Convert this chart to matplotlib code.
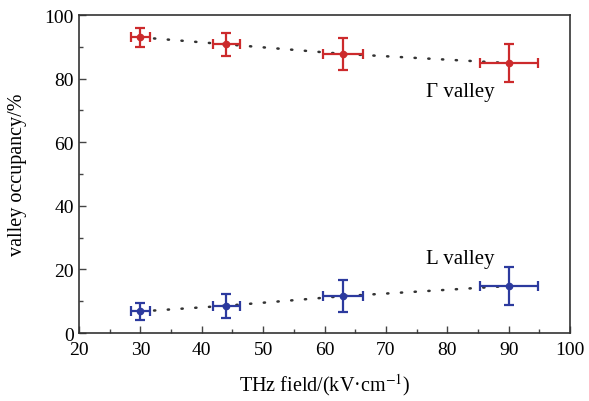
import matplotlib.pyplot as plt
from matplotlib.ticker import MultipleLocator

plt.rcParams['font.family'] = ['Liberation Serif', 'DejaVu Serif']
plt.rcParams['mathtext.fontset'] = 'stix'

# THz field strength (kV/cm) and valley occupancy (%)
field = [30, 44, 63, 90]
field_err = [1.6, 2.2, 3.2, 4.7]

gamma_occ = [93, 90.8, 87.8, 84.9]
gamma_err = [3.0, 3.7, 5.0, 6.0]

l_occ = [6.8, 8.6, 11.6, 14.8]
l_err = [2.8, 3.8, 5.0, 6.0]

fig = plt.figure(figsize=(5.89, 4.02), dpi=100)
ax = fig.add_axes([0.134, 0.169, 0.834, 0.791])

red = '#cc2a2c'
blue = '#2c3a9e'

for occ, err, col in [(gamma_occ, gamma_err, red), (l_occ, l_err, blue)]:
    ax.plot(field, occ, linestyle=(0, (0.5, 5)), color='#333333', linewidth=1.8,
            dash_capstyle='round', zorder=1)
    ax.errorbar(field, occ, xerr=field_err, yerr=err, fmt='o', color=col,
                markersize=4.5, elinewidth=1.6, capsize=3.5, capthick=1.6, zorder=2)

ax.text(76.5, 75.9, 'Γ valley', fontsize=15, va='center', ha='left')
ax.text(76.5, 23.5, 'L valley', fontsize=15, va='center', ha='left')

ax.set_xlim(20, 100)
ax.set_ylim(0, 100)
ax.xaxis.set_major_locator(MultipleLocator(10))
ax.xaxis.set_minor_locator(MultipleLocator(5))
ax.yaxis.set_major_locator(MultipleLocator(20))
ax.yaxis.set_minor_locator(MultipleLocator(10))
ax.tick_params(which='both', direction='in', top=False, right=False,
               labelsize=14, color='#444444')
ax.tick_params(which='major', length=5, width=1)
ax.tick_params(which='minor', length=3, width=1)
ax.tick_params(axis='x', pad=6)
for s in ax.spines.values():
    s.set_linewidth(1.2)
    s.set_color('#333333')

ax.set_xlabel('THz field/(kV·cm$^{-1}$)', fontsize=14.5, va='top')
ax.set_ylabel('valley occupancy/%', fontsize=14.5)
ax.xaxis.set_label_coords(0.5, -0.12)
ax.yaxis.set_label_coords(-0.105, 0.5)

fig.savefig('out.png', dpi=100)
